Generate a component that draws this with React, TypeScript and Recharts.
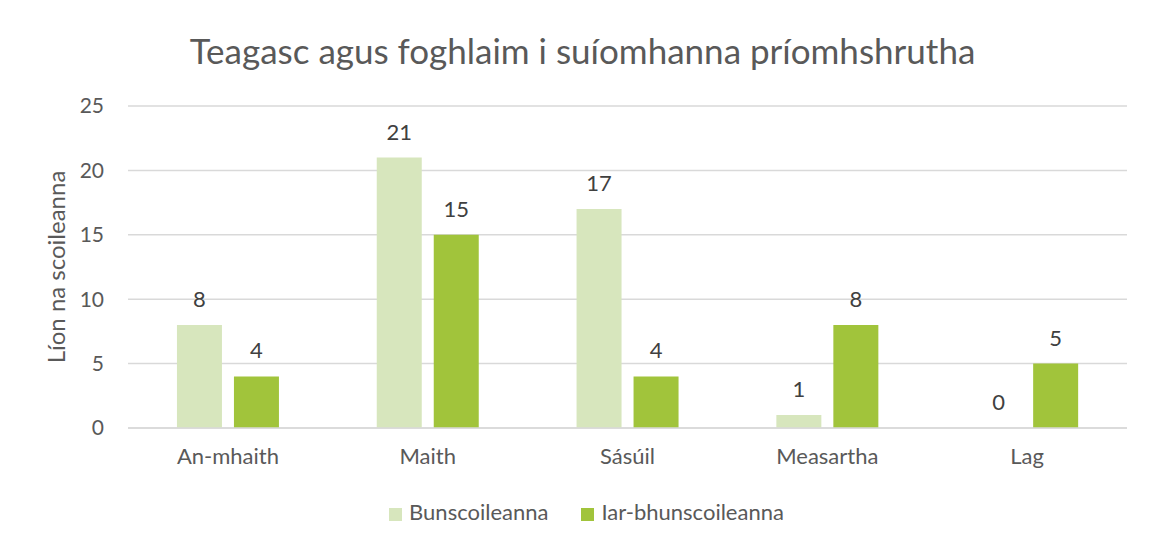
import React from 'react';
import { BarChart, Bar, XAxis, YAxis, CartesianGrid, Legend, LabelList } from 'recharts';

const categories = ['An-mhaith', 'Maith', 'Sásúil', 'Measartha', 'Lag'];
const bunscoileanna = [8, 21, 17, 1, 0];
const iarBhunscoileanna = [4, 15, 4, 8, 5];
const yTicks = [0, 5, 10, 15, 20, 25];

const FONT = 'Lato, "Open Sans", sans-serif';
const TEXT = '#595959';

// draws the value above the bar, also for zero-height bars
const renderValue = (props: any) => {
  const { x, y, width, height, value } = props;
  if (value === undefined || value === null) return null;
  const top = Math.min(Number(y), Number(y) + Number(height || 0));
  return (
    <text
      x={Number(x) + Number(width) / 2}
      y={top - 18}
      textAnchor="middle"
      fill="#404040"
      fontSize={22}
      fontFamily={FONT}
    >
      {value}
    </text>
  );
};

export default function App() {
  const data = categories.map((name, i) => ({
    name,
    Bunscoileanna: bunscoileanna[i],
    'Iar-bhunscoileanna': iarBhunscoileanna[i],
  }));

  return (
    <div
      style={{
        position: 'relative',
        width: 1149,
        height: 560,
        marginLeft: -1,
        marginTop: -1,
        border: '1px solid #d9d9d9',
        background: '#fff',
        fontFamily: FONT,
      }}
    >
      <div
        style={{
          position: 'absolute',
          top: 21,
          left: 0,
          width: 1149,
          textAlign: 'center',
          fontSize: 35,
          color: TEXT,
        }}
      >
        Teagasc agus foghlaim i suíomhanna príomhshrutha
      </div>
      <BarChart
        width={1149}
        height={537}
        data={data}
        margin={{ top: 98, right: 30, left: 0, bottom: 20 }}
        barCategoryGap="24.5%"
        barGap={12}
      >
        <CartesianGrid vertical={false} stroke="#d9d9d9" strokeWidth={1.5} />
        <XAxis
          dataKey="name"
          height={70}
          tickLine={false}
          axisLine={{ stroke: '#d9d9d9', strokeWidth: 1.5 }}
          tick={{ fill: TEXT, fontSize: 22, fontFamily: FONT }}
          tickMargin={14}
        />
        <YAxis
          width={120}
          domain={[0, 25]}
          ticks={yTicks}
          tickLine={false}
          axisLine={false}
          tickSize={0}
          tickMargin={24}
          tick={{ fill: TEXT, fontSize: 21, fontFamily: FONT }}
          label={{
            value: 'Líon na scoileanna',
            angle: -90,
            position: 'insideLeft',
            offset: 48,
            style: { textAnchor: 'middle', fill: TEXT, fontSize: 24, fontFamily: FONT },
          }}
        />
        <Legend
          verticalAlign="bottom"
          iconType="square"
          iconSize={13}
          wrapperStyle={{ fontSize: 22, fontFamily: FONT, left: 9, width: 1149 }}
          formatter={(value, _entry, index) => (
            <span style={{ color: TEXT, marginLeft: 3, marginRight: index === 0 ? 23 : 0 }}>{value}</span>
          )}
        />
        <Bar dataKey="Bunscoileanna" fill="#D7E6BD" minPointSize={0.01} isAnimationActive={false}>
          <LabelList dataKey="Bunscoileanna" content={renderValue} />
        </Bar>
        <Bar dataKey="Iar-bhunscoileanna" fill="#A1C43B" isAnimationActive={false}>
          <LabelList dataKey="Iar-bhunscoileanna" content={renderValue} />
        </Bar>
      </BarChart>
    </div>
  );
}
